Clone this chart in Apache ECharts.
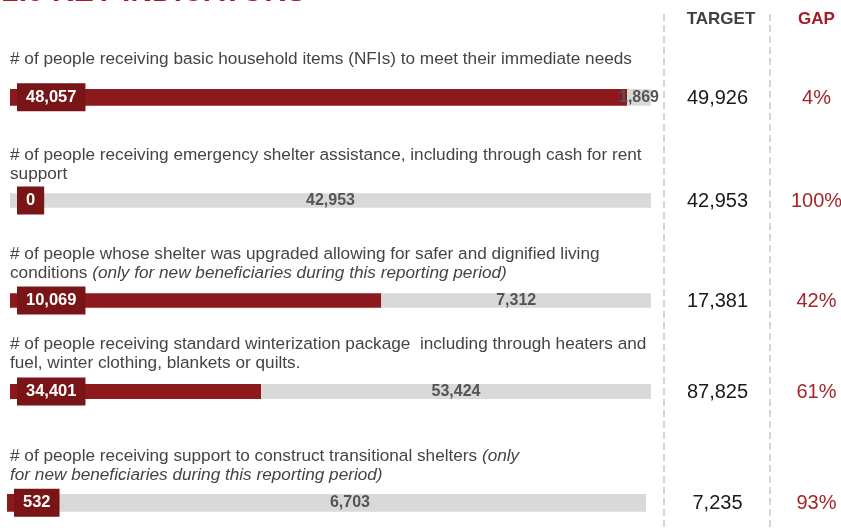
<!DOCTYPE html>
<html><head><meta charset="utf-8">
<script src="https://cdn.jsdelivr.net/npm/echarts@6/dist/echarts.min.js"></script>
<style>html,body{margin:0;padding:0;background:#fff;overflow:hidden}#c{width:841px;height:531px}</style>
</head><body><div id="c"></div>
<script>
// ---- data ----
const titleText = "2.0 KEY INDICATORS";
const headers = ["TARGET", "GAP"];
const descriptions = [
  ["# of people receiving basic household items (NFIs) to meet their immediate needs"],
  ["# of people receiving emergency shelter assistance, including through cash for rent", "support"],
  ["# of people whose shelter was upgraded allowing for safer and dignified living", "conditions _(only for new beneficiaries during this reporting period)_"],
  ["# of people receiving standard winterization package  including through heaters and", "fuel, winter clothing, blankets or quilts."],
  ["# of people receiving support to construct transitional shelters _(only_", "_for new beneficiaries during this reporting period)_"]
];
const achieved = [48057, 0, 10069, 34401, 532];
const targets = [49926, 42953, 17381, 87825, 7235];

// ---- layout (not data) ----
const rows = [
  {top: 89,    h: 16.7, left: 10, width: 641, lines: [59]},
  {top: 193.3, h: 14.4, left: 10, width: 641, lines: [155.5, 174.5]},
  {top: 293.3, h: 14.4, left: 10, width: 641, lines: [254.5, 273.5]},
  {top: 384,   h: 15,   left: 10, width: 641, lines: [344.5, 363.5]},
  {top: 494,   h: 17.7, left: 7,  width: 639, lines: [456, 475]}
];
const FONT = "'Liberation Sans', Arial, sans-serif";
const RED = '#8c1a1d', BOX = '#7a1517', GREY = '#d9d9d9';
const fmt = v => v.toLocaleString('en-US');
const DF = 17.2;

const grid = [], xAxis = [], yAxis = [], series = [], graphic = [];
rows.forEach((r, i) => {
  const remaining = targets[i] - achieved[i];
  grid.push({left: r.left, width: r.width, top: r.top, height: r.h, containLabel: false});
  xAxis.push({type: 'value', gridIndex: i, min: 0, max: targets[i], show: false});
  yAxis.push({type: 'category', gridIndex: i, data: ['v'], show: false});
  series.push({
    type: 'bar', xAxisIndex: i, yAxisIndex: i, stack: 's' + i, barWidth: '100%',
    itemStyle: {color: RED}, data: [achieved[i]], silent: true
  });
  series.push({
    type: 'bar', xAxisIndex: i, yAxisIndex: i, stack: 's' + i, barWidth: '100%',
    itemStyle: {color: GREY}, data: [remaining], silent: true,
    label: {show: true, position: 'inside', formatter: () => fmt(remaining),
      color: '#555', fontWeight: 'bold', fontSize: 16, fontFamily: FONT}
  });
  series.push({
    type: 'scatter', xAxisIndex: i, yAxisIndex: i, z: 5, symbol: 'circle', symbolSize: 1,
    itemStyle: {color: 'rgba(0,0,0,0)', opacity: 1}, data: [[0, 0]], silent: true,
    label: {show: true, position: 'right', distance: 6.5, formatter: () => fmt(achieved[i]),
      backgroundColor: BOX, color: '#fff', fontWeight: 'bold', fontSize: 16.5, lineHeight: 18,
      padding: [5, 9, 5, 9], fontFamily: FONT}
  });
  // descriptions
  descriptions[i].forEach((line, k) => {
    const rich = line.replace(/_([^_]+)_/g, '\u0001$1\u0002');
    let txt = '';
    rich.split(/(\u0001[^\u0002]*\u0002)/).forEach(seg => {
      if (!seg) return;
      if (seg[0] === '\u0001') txt += '{i|' + seg.slice(1, -1) + '}';
      else txt += '{n|' + seg + '}';
    });
    graphic.push({type: 'text', x: 10, y: r.lines[k], silent: true, style: {
      text: txt, verticalAlign: 'middle', align: 'left',
      fontSize: DF, fontFamily: FONT, fill: '#444',
      rich: {
        n: {fontSize: DF, fontFamily: FONT, fill: '#444'},
        i: {fontSize: DF, fontFamily: FONT, fill: '#444', fontStyle: 'italic'}
      }
    }});
  });
  const cy = r.top + r.h / 2 + 1;
  graphic.push({type: 'text', x: 717.5, y: cy, silent: true, style: {
    text: fmt(targets[i]), align: 'center', verticalAlign: 'middle',
    fontSize: 20, fontFamily: FONT, fill: '#1a1a1a'}});
  graphic.push({type: 'text', x: 816.5, y: cy, silent: true, style: {
    text: Math.round(remaining / targets[i] * 100) + '%', align: 'center', verticalAlign: 'middle',
    fontSize: 20, fontFamily: FONT, fill: '#a3262a'}});
});

// headers, dashed separators, clipped title
graphic.push({type: 'text', x: 721, y: 19.5, silent: true, style: {text: headers[0], align: 'center',
  verticalAlign: 'middle', fontSize: 17, fontWeight: 'bold', fontFamily: FONT, fill: '#404040'}});
graphic.push({type: 'text', x: 816.5, y: 19.5, silent: true, style: {text: headers[1], align: 'center',
  verticalAlign: 'middle', fontSize: 17, fontWeight: 'bold', fontFamily: FONT, fill: '#a31d24'}});
[664, 770].forEach(x => graphic.push({type: 'line', silent: true,
  shape: {x1: x, y1: 14, x2: x, y2: 531},
  style: {stroke: '#c8c8c8', lineWidth: 1.5, lineDash: [7, 4]}}));
graphic.push({type: 'text', x: 2, y: -7, silent: true, style: {text: titleText, align: 'left',
  verticalAlign: 'middle', fontSize: 30, fontWeight: 'bold', fontFamily: FONT, fill: '#a31d24'}});

const chart = echarts.init(document.getElementById('c'), null, {renderer: 'canvas'});
chart.setOption({animation: false, backgroundColor: '#fff', grid, xAxis, yAxis, series, graphic});
</script></body></html>
